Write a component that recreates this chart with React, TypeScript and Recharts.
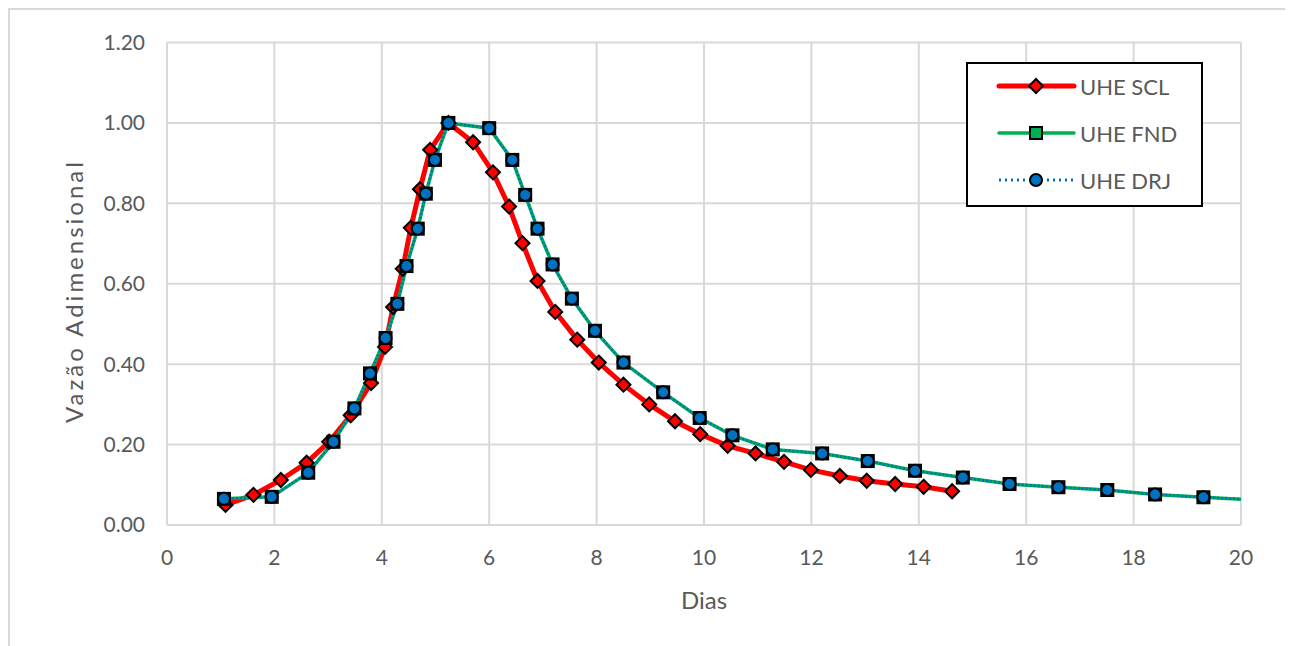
import { CartesianGrid, Line, LineChart, XAxis, YAxis } from "recharts";

const X_TICKS = [0, 2, 4, 6, 8, 10, 12, 14, 16, 18, 20];
const Y_TICKS = [0, 0.2, 0.4, 0.6, 0.8, 1.0, 1.2];

const SCL_X = [
  1.09, 1.61, 2.12, 2.6, 3.02, 3.42, 3.8, 4.06, 4.21, 4.39, 4.54, 4.71, 4.9, 5.24, 5.7, 6.07, 6.37, 6.62,
  6.9, 7.23, 7.64, 8.04, 8.5, 8.98, 9.46, 9.93, 10.44, 10.96, 11.49, 11.99, 12.53, 13.03, 13.56, 14.09, 14.62,
];
const SCL_Y = [
  0.05, 0.075, 0.112, 0.155, 0.207, 0.273, 0.353, 0.443, 0.542, 0.637, 0.739, 0.835, 0.933, 1.0, 0.952, 0.877,
  0.792, 0.701, 0.607, 0.53, 0.461, 0.404, 0.349, 0.3, 0.258, 0.226, 0.197, 0.178, 0.157, 0.137, 0.122, 0.11,
  0.102, 0.095, 0.084,
];

const FND_X = [
  1.06, 1.95, 2.63, 3.1, 3.49, 3.78, 4.07, 4.29, 4.46, 4.67, 4.82, 4.99, 5.24, 6.0, 6.43, 6.67, 6.9, 7.18, 7.54,
  7.97, 8.5, 9.24, 9.92, 10.53, 11.28, 12.2, 13.05, 13.93, 14.82, 15.69, 16.6, 17.51, 18.4, 19.3, 20.2,
];
const FND_Y = [
  0.065, 0.07, 0.13, 0.207, 0.29, 0.377, 0.465, 0.55, 0.644, 0.737, 0.824, 0.908, 1.0, 0.987, 0.908, 0.821,
  0.737, 0.648, 0.563, 0.483, 0.404, 0.33, 0.266, 0.223, 0.188, 0.178, 0.159, 0.135, 0.118, 0.102, 0.094, 0.087,
  0.076, 0.069, 0.063,
];

const DRJ_X = FND_X.slice();
const DRJ_Y = FND_Y.slice();

const toRows = (xs: number[], ys: number[]) => xs.map((x, i) => ({ x, y: ys[i] }));
const scl = toRows(SCL_X, SCL_Y);
const fnd = toRows(FND_X, FND_Y);
const drj = toRows(DRJ_X, DRJ_Y);

const FONT = "Lato, 'Open Sans', sans-serif";
const TEXT = "#595959";
const GRID = "#d9d9d9";
const RED = "#ff0000";
const GREEN = "#00b050";
const BLUE = "#0070c0";

const TICK = { fontSize: 21, fill: TEXT, fontFamily: FONT };

function Diamond({ cx, cy, s = 7 }: { cx: number; cy: number; s?: number }) {
  return (
    <polygon
      points={`${cx},${cy - s} ${cx + s},${cy} ${cx},${cy + s} ${cx - s},${cy}`}
      fill={RED}
      stroke="#000"
      strokeWidth={2}
    />
  );
}

function Square({ cx, cy, s = 6 }: { cx: number; cy: number; s?: number }) {
  return <rect x={cx - s} y={cy - s} width={s * 2} height={s * 2} fill={GREEN} stroke="#000" strokeWidth={2} />;
}

function Circle({ cx, cy, r = 6 }: { cx: number; cy: number; r?: number }) {
  return <circle cx={cx} cy={cy} r={r} fill={BLUE} stroke="#000" strokeWidth={2} />;
}

const dotFor = (Shape: typeof Circle) => (p: any) => {
  if (p.payload.x > 20 || p.cx == null) return <g key={p.key} />;
  return (
    <g key={p.key}>
      <Shape cx={p.cx} cy={p.cy} />
    </g>
  );
};

function LegendBox() {
  const rows = [
    { name: "UHE SCL", y: 22 },
    { name: "UHE FND", y: 69 },
    { name: "UHE DRJ", y: 116 },
  ];
  return (
    <div
      style={{
        position: "absolute",
        left: 956,
        top: 52,
        width: 237,
        height: 145,
        border: "2.5px solid #000",
        boxSizing: "border-box",
        background: "#fff",
      }}
    >
      <svg width={232} height={140} style={{ position: "absolute", left: 0, top: 0 }}>
        <line x1={31} x2={106} y1={rows[0].y} y2={rows[0].y} stroke={RED} strokeWidth={5} strokeLinecap="round" />
        <Diamond cx={68} cy={rows[0].y} />
        <line x1={31} x2={106} y1={rows[1].y} y2={rows[1].y} stroke={GREEN} strokeWidth={3.5} strokeLinecap="round" />
        <Square cx={68} cy={rows[1].y} />
        <line x1={31} x2={106} y1={rows[2].y} y2={rows[2].y} stroke={BLUE} strokeWidth={3} strokeDasharray="2 4" />
        <Circle cx={68} cy={rows[2].y} />
        {rows.map((r) => (
          <text key={r.name} x={112} y={r.y} dominantBaseline="central" fontSize={22} fill={TEXT} fontFamily={FONT}>
            {r.name}
          </text>
        ))}
      </svg>
    </div>
  );
}

export default function App() {
  return (
    <div style={{ width: 1278, height: 640, border: `2px solid ${GRID}`, position: "relative", background: "#fff" }}>
      <LineChart width={1278} height={640} margin={{ top: 32.5, right: 47, left: 0, bottom: 35 }}>
        <CartesianGrid stroke={GRID} strokeWidth={2} />
        <XAxis
          type="number"
          dataKey="x"
          domain={[0, 20]}
          ticks={X_TICKS}
          allowDataOverflow
          tick={TICK}
          tickLine={false}
          tickSize={0}
          tickMargin={25}
          height={90}
          axisLine={{ stroke: GRID, strokeWidth: 2 }}
          label={{
            content: () => (
              <text x={694} y={589} textAnchor="middle" dominantBaseline="central" fontSize={24} fill={TEXT} fontFamily={FONT}>
                Dias
              </text>
            ),
          }}
        />
        <YAxis
          type="number"
          dataKey="y"
          domain={[0, 1.2]}
          ticks={Y_TICKS}
          tickFormatter={(v: number) => v.toFixed(2)}
          tick={TICK}
          tickLine={false}
          tickSize={0}
          tickMargin={22}
          width={157}
          axisLine={{ stroke: GRID, strokeWidth: 2 }}
          label={{
            content: () => (
              <text
                x={63}
                y={281}
                transform="rotate(-90 63 281)"
                textAnchor="middle"
                dominantBaseline="central"
                fontSize={24}
                letterSpacing={3}
                fill={TEXT}
                fontFamily={FONT}
              >
                Vazão Adimensional
              </text>
            ),
          }}
        />
        <Line
          data={scl}
          dataKey="y"
          name="UHE SCL"
          stroke={RED}
          strokeWidth={5}
          dot={dotFor(Diamond as any)}
          activeDot={false}
          isAnimationActive={false}
        />
        <Line
          data={fnd}
          dataKey="y"
          name="UHE FND"
          stroke={GREEN}
          strokeWidth={3.5}
          dot={dotFor(Square as any)}
          activeDot={false}
          isAnimationActive={false}
        />
        <Line
          data={drj}
          dataKey="y"
          name="UHE DRJ"
          stroke={BLUE}
          strokeWidth={2.5}
          strokeDasharray="2 2"
          dot={dotFor(Circle)}
          activeDot={false}
          isAnimationActive={false}
        />
      </LineChart>
      <LegendBox />
    </div>
  );
}
